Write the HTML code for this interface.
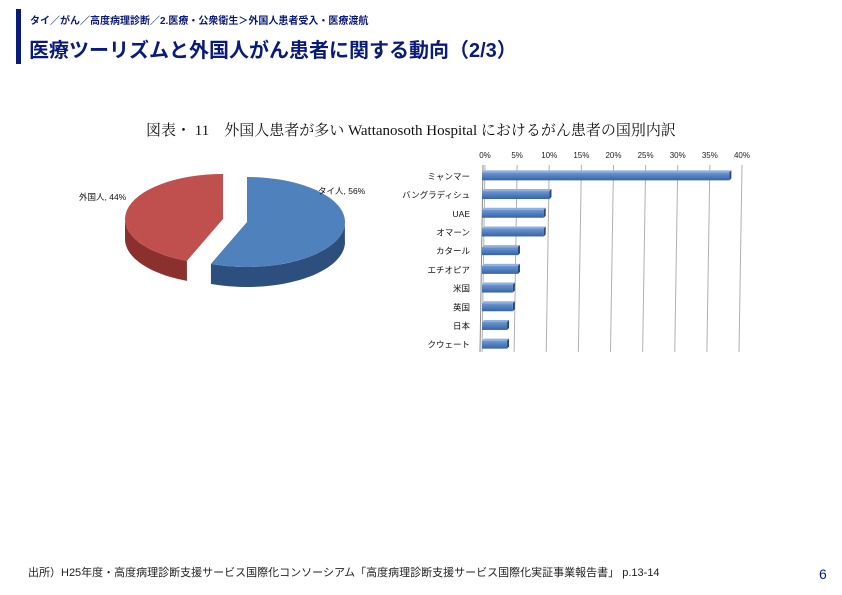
<!DOCTYPE html>
<html><head><meta charset="utf-8">
<style>
body{margin:0;width:842px;height:595px;background:#fff;position:relative;overflow:hidden;font-family:"Liberation Sans","Noto Sans CJK JP",sans-serif;}
.abs{position:absolute;white-space:nowrap;}
</style></head>
<body>
<div class="abs" style="left:16px;top:9px;width:5px;height:55px;background:#0a1a7a"></div>
<div class="abs" style="left:30px;top:12px;font-size:10px;font-weight:bold;color:#0a1a7a">タイ／がん／高度病理診断／2.医療・公衆衛生＞外国人患者受入・医療渡航</div>
<div class="abs" style="left:29px;top:34px;font-size:20px;font-weight:bold;color:#0a1a7a">医療ツーリズムと外国人がん患者に関する動向（2/3）</div>
<div class="abs" style="left:146px;top:119px;font-size:15px;color:#111;font-family:'Liberation Serif','Noto Serif CJK SC',serif">図表・ 11　外国人患者が多い Wattanosoth Hospital におけるがん患者の国別内訳</div>
<div class="abs" style="left:28px;top:564px;font-size:11px;color:#222">出所）H25年度・高度病理診断支援サービス国際化コンソーシアム「高度病理診断支援サービス国際化実証事業報告書」 p.13-14</div>
<div class="abs" style="left:819px;top:566px;font-size:14px;color:#0a1a7a">6</div>
<svg id="chart" class="abs" style="left:0;top:0" width="842" height="595"></svg>
<script>
const pieLabels=["タイ人","外国人"];
const pieValues=[56,44];
const barCats=["ミャンマー","バングラディシュ","UAE","オマーン","カタール","エチオピア","米国","英国","日本","クウェート"];
const barValues=[38.5,10.5,9.6,9.6,5.6,5.6,4.8,4.8,3.9,3.9];
const xTicks=[0,5,10,15,20,25,30,35,40];

const NS="http://www.w3.org/2000/svg";
const svg=document.getElementById('chart');
function mk(t,a,p){const e=document.createElementNS(NS,t);for(const k in a)e.setAttribute(k,a[k]);(p||svg).appendChild(e);return e;}

// gradients
const defs=mk('defs',{});
const gb=mk('linearGradient',{id:'gb',x1:0,y1:0,x2:0,y2:1},defs);
mk('stop',{offset:0,'stop-color':'#6e98d4'},gb);mk('stop',{offset:1,'stop-color':'#3563a4'},gb);

// bar chart
const x0=485,x1=742,yTop=165,yBot=352,step=(yBot-yTop)/barCats.length;
const xs=v=>x0+(v-xTicks[0])/(xTicks[xTicks.length-1]-xTicks[0])*(x1-x0);
xTicks.forEach(t=>{
  const l=mk('line',{x1:xs(t),y1:yTop,x2:xs(t)-3,y2:yBot,stroke:'#b0b0b0','stroke-width':1});
  
  
  const tx=mk('text',{x:xs(t),y:158,'font-size':8,'text-anchor':'middle',fill:'#222'});
  tx.textContent=t+'%';
  
  
});
mk('line',{x1:x0-2,y1:yTop,x2:x0-5,y2:yBot,stroke:'#888'});
barCats.forEach((c,i)=>{
  const cy=yTop+step*(i+0.5)+2;
  const w=xs(barValues[i])-x0;
  const g=mk('g',{});
  
  
  mk('polygon',{points:`${x0-3},${cy-4} ${x0-1},${cy-6} ${x0-1+w},${cy-6} ${x0-3+w},${cy-4}`,fill:'#8fb1e0'},g);
  mk('polygon',{points:`${x0-3+w},${cy-4} ${x0-1+w},${cy-6} ${x0-1+w},${cy+2} ${x0-3+w},${cy+4}`,fill:'#24477a'},g);
  mk('rect',{x:x0-3,y:cy-4,width:w,height:8,fill:'url(#gb)'},g);
  const tx=mk('text',{x:470,y:cy+3,'font-size':8.5,'text-anchor':'end',fill:'#111'});
  tx.textContent=c;
  
  
});

// 3D pie
const cx=235,cy=222,rx=98,ry=45,depth=20;
const tot=pieValues.reduce((a,b)=>a+b,0);
const cols=[['#4f81bd','#2c4f7e'],['#c0504d','#8c302e']];
const offs=[[12,0],[-12,-3]];
let a0=-Math.PI/2;
pieValues.forEach((v,i)=>{
  const a1=a0+v/tot*2*Math.PI;
  const [ox,oy]=offs[i];
  const px=a=>cx+ox+rx*Math.cos(a), py=a=>cy+oy+ry*Math.sin(a);
  const g=mk('g',{});
  
  
  // side: visible front part
  let pts=[];
  const N=60;
  for(let k=0;k<=N;k++){const a=a0+(a1-a0)*k/N;const s=Math.sin(a);if(s>=-0.05)pts.push([px(a),py(a)]);}
  if(pts.length>1){
    let d='M'+pts.map(p=>p[0]+','+p[1]).join(' L');
    for(let k=pts.length-1;k>=0;k--)d+=' L'+pts[k][0]+','+(pts[k][1]+depth);
    mk('path',{d:d+'Z',fill:cols[i][1]},g);
  }
  // inner wall
  const a=i==0?a0:a1;
  mk('polygon',{points:`${cx+ox},${cy+oy} ${px(a)},${py(a)} ${px(a)},${py(a)+depth} ${cx+ox},${cy+oy+depth}`,fill:cols[i][1]},g);
  const large=(a1-a0)>Math.PI?1:0;
  mk('path',{d:`M${cx+ox},${cy+oy} L${px(a0)},${py(a0)} A${rx},${ry} 0 ${large} 1 ${px(a1)},${py(a1)} Z`,fill:cols[i][0]},g);
  a0=a1;
});
[[pieLabels[0]+', '+pieValues[0]+'%',318,194],[pieLabels[1]+', '+pieValues[1]+'%',79,200]].forEach(([t,x,y])=>{
  const tx=mk('text',{x:x,y:y,'font-size':8.5,fill:'#111'});
  tx.textContent=t;
  
  
});
</script>
</body></html>
